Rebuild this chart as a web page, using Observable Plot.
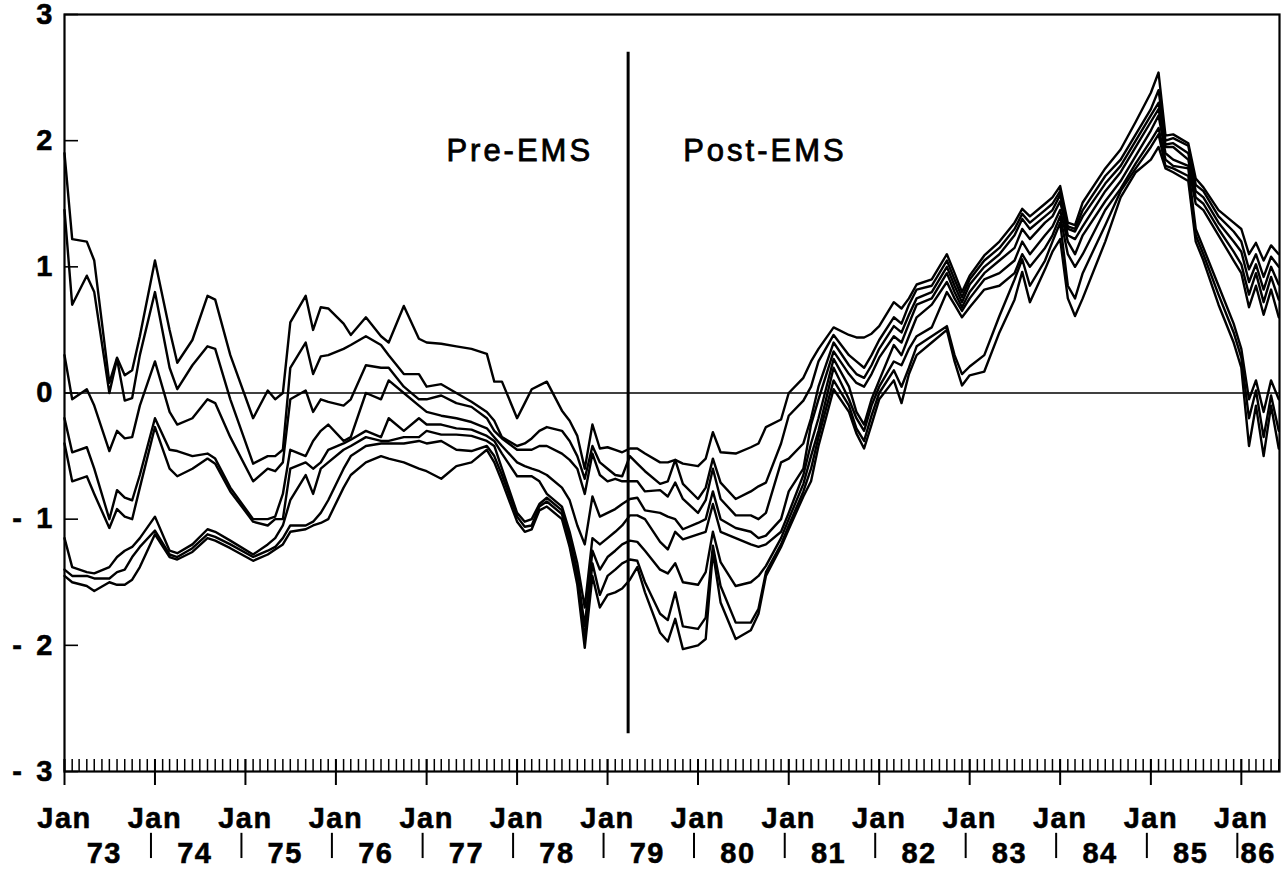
<!DOCTYPE html>
<html>
<head>
<meta charset="utf-8">
<script src="https://cdn.jsdelivr.net/npm/d3@7"></script>
<script src="https://cdn.jsdelivr.net/npm/@observablehq/plot@0.6"></script>
<style>
  html, body { margin: 0; padding: 0; background: #fff; overflow: hidden; }
  #chart svg { display: block; }
  #chart svg text { stroke: #000; stroke-width: 0.55px; }
</style>
</head>
<body>
<div id="chart"></div>
<script>
const monthIndex = [
  0,1,3,4,6,7,8,9,10,12,
  14,15,17,19,20,22,25,27,28,29,
  30,32,33,34,35,37,38,40,42,43,
  45,47,48,50,52,54,56,57,58,60,
  61,62,63,64,66,67,68,69,70,71,
  72,73,74,75,76,77,79,80,81,82,
  84,85,86,87,89,91,92,93,95,96,
  98,99,100,102,104,105,106,107,108,110,
  111,112,113,115,117,118,119,120,122,124,
  126,127,128,130,131,132,133,134,135,138,
  140,142,144,145,146,147,149,150,151,153,
  155,156,157,158,159,160,161
];

// Eight series (ordered from highest to lowest at each reading)
const s1 = [
  1.9,1.22,1.2,1.05,0.08,0.28,0.14,0.18,0.45,1.05,
  0.5,0.24,0.42,0.77,0.74,0.3,-0.2,0.02,-0.05,0.0,
  0.56,0.77,0.5,0.68,0.67,0.55,0.46,0.6,0.45,0.4,
  0.69,0.43,0.4,0.39,0.37,0.35,0.31,0.09,0.09,-0.2,
  -0.08,0.03,0.06,0.09,-0.14,-0.22,-0.34,-0.6,-0.25,-0.44,
  -0.43,-0.45,-0.47,-0.44,-0.44,-0.48,-0.55,-0.55,-0.53,-0.56,
  -0.58,-0.52,-0.31,-0.47,-0.48,-0.43,-0.4,-0.27,-0.21,0.0,
  0.12,0.25,0.35,0.52,0.46,0.44,0.44,0.47,0.53,0.72,
  0.67,0.75,0.86,0.9,1.1,0.95,0.8,0.93,1.09,1.2,
  1.35,1.46,1.4,1.5,1.55,1.64,1.35,1.33,1.51,1.78,
  1.93,2.15,2.38,2.54,2.04,2.05,1.98,1.7,1.63,1.45,
  1.35,1.3,1.1,1.19,1.05,1.17,1.1
];
const s2 = [
  1.45,0.7,0.93,0.8,0.0,0.27,-0.06,-0.04,0.3,0.8,
  0.2,0.03,0.22,0.37,0.35,-0.05,-0.56,-0.5,-0.5,-0.45,
  0.2,0.4,0.15,0.29,0.3,0.35,0.38,0.45,0.38,0.3,
  0.15,0.15,0.05,0.07,0.0,-0.07,-0.15,-0.22,-0.35,-0.42,
  -0.4,-0.36,-0.3,-0.27,-0.3,-0.38,-0.5,-0.68,-0.42,-0.55,
  -0.6,-0.65,-0.66,-0.5,-0.56,-0.62,-0.72,-0.7,-0.53,-0.72,
  -0.84,-0.75,-0.52,-0.71,-0.84,-0.78,-0.74,-0.71,-0.4,-0.18,
  -0.06,0.05,0.25,0.46,0.3,0.25,0.2,0.3,0.42,0.6,
  0.55,0.7,0.82,0.85,1.05,0.9,0.76,0.9,1.05,1.15,
  1.3,1.42,1.35,1.45,1.5,1.6,1.32,1.3,1.45,1.72,
  1.85,2.05,2.25,2.4,2.0,2.02,1.96,1.65,1.6,1.4,
  1.28,1.2,0.98,1.1,0.92,1.08,1.0
];
const s3 = [
  0.3,-0.05,0.03,-0.1,-0.46,-0.3,-0.36,-0.35,-0.1,0.25,
  -0.15,-0.25,-0.2,-0.05,-0.08,-0.35,-0.7,-0.6,-0.62,-0.55,
  -0.05,0.02,-0.15,-0.05,-0.07,-0.1,-0.05,0.22,0.2,0.2,
  0.05,-0.05,-0.05,-0.02,-0.08,-0.11,-0.2,-0.3,-0.36,-0.45,
  -0.45,-0.45,-0.42,-0.42,-0.48,-0.53,-0.6,-0.8,-0.48,-0.65,
  -0.7,-0.68,-0.7,-0.7,-0.7,-0.78,-0.77,-0.82,-0.71,-0.84,
  -0.95,-0.85,-0.6,-0.84,-0.97,-0.97,-1.0,-0.95,-0.55,-0.52,
  -0.4,-0.2,0.05,0.4,0.22,0.15,0.12,0.22,0.35,0.53,
  0.48,0.62,0.75,0.8,1.0,0.85,0.72,0.86,1.0,1.1,
  1.25,1.38,1.3,1.4,1.45,1.57,1.3,1.28,1.4,1.66,
  1.8,2.0,2.2,2.3,1.97,1.98,1.9,1.6,1.55,1.35,
  1.2,1.12,0.88,1.02,0.82,1.0,0.86
];
const s4 = [
  -0.2,-0.47,-0.43,-0.6,-1.0,-0.77,-0.83,-0.85,-0.65,-0.2,
  -0.45,-0.46,-0.5,-0.48,-0.52,-0.75,-1.0,-1.0,-0.98,-0.8,
  -0.45,-0.5,-0.38,-0.3,-0.25,-0.38,-0.35,0.0,-0.05,0.1,
  0.0,-0.1,-0.15,-0.18,-0.2,-0.23,-0.28,-0.35,-0.42,-0.55,
  -0.58,-0.6,-0.62,-0.65,-0.75,-0.85,-1.05,-1.2,-0.82,-0.98,
  -0.95,-0.92,-0.88,-0.84,-0.83,-0.93,-0.95,-0.98,-1.0,-1.08,
  -1.03,-1.0,-0.78,-1.0,-1.07,-1.1,-1.15,-1.13,-1.0,-0.78,
  -0.6,-0.25,-0.05,0.33,0.15,0.08,0.05,0.15,0.28,0.45,
  0.4,0.55,0.7,0.75,0.95,0.8,0.68,0.8,0.95,1.05,
  1.15,1.3,1.22,1.35,1.4,1.52,1.25,1.22,1.32,1.6,
  1.75,1.95,2.15,2.25,1.95,1.95,1.85,1.55,1.5,1.3,
  1.12,1.02,0.78,0.95,0.72,0.92,0.74
];
const s5 = [
  -0.4,-0.7,-0.66,-0.8,-1.07,-0.92,-0.98,-1.0,-0.75,-0.27,
  -0.6,-0.66,-0.6,-0.52,-0.56,-0.78,-1.02,-1.05,-1.0,-1.0,
  -0.6,-0.55,-0.6,-0.55,-0.45,-0.4,-0.37,-0.3,-0.35,-0.2,
  -0.3,-0.2,-0.25,-0.25,-0.28,-0.29,-0.34,-0.38,-0.48,-0.66,
  -0.66,-0.66,-0.7,-0.8,-0.9,-1.1,-1.35,-1.7,-1.15,-1.2,
  -1.15,-1.1,-1.05,-0.97,-0.97,-1.0,-1.18,-1.24,-1.1,-1.16,
  -1.12,-1.1,-0.88,-1.1,-1.15,-1.2,-1.22,-1.2,-1.1,-0.95,
  -0.65,-0.4,-0.2,0.27,0.05,-0.15,-0.25,-0.05,0.1,0.38,
  0.3,0.45,0.6,0.7,0.88,0.75,0.65,0.75,0.9,0.95,
  1.05,1.2,1.1,1.25,1.32,1.45,1.2,1.1,1.25,1.52,
  1.68,1.88,2.08,2.2,1.9,1.85,1.8,1.5,1.45,1.25,
  1.05,0.95,0.68,0.85,0.62,0.82,0.6
];
const s6 = [
  -1.15,-1.38,-1.42,-1.43,-1.38,-1.3,-1.25,-1.22,-1.15,-0.98,
  -1.25,-1.27,-1.2,-1.08,-1.1,-1.17,-1.28,-1.2,-1.15,-1.05,
  -0.85,-0.65,-0.8,-0.6,-0.55,-0.45,-0.42,-0.35,-0.38,-0.38,
  -0.35,-0.35,-0.3,-0.33,-0.33,-0.34,-0.38,-0.42,-0.6,-0.95,
  -1.02,-1.0,-0.88,-0.83,-0.93,-1.15,-1.42,-1.85,-1.25,-1.4,
  -1.3,-1.25,-1.2,-1.17,-1.18,-1.25,-1.4,-1.43,-1.35,-1.5,
  -1.52,-1.42,-1.1,-1.34,-1.53,-1.5,-1.45,-1.37,-1.15,-1.0,
  -0.72,-0.5,-0.3,0.2,-0.05,-0.2,-0.3,-0.1,0.05,0.25,
  0.22,0.35,0.45,0.52,0.8,0.7,0.6,0.68,0.82,0.85,
  0.95,1.1,1.0,1.15,1.25,1.4,1.1,1.0,1.1,1.45,
  1.62,1.82,2.0,2.1,1.85,1.8,1.78,1.3,1.15,0.85,
  0.55,0.35,-0.05,0.1,-0.15,0.1,-0.05
];
const s7 = [
  -1.4,-1.45,-1.45,-1.47,-1.47,-1.42,-1.4,-1.3,-1.22,-1.09,
  -1.28,-1.3,-1.23,-1.12,-1.14,-1.2,-1.3,-1.25,-1.22,-1.15,
  -1.05,-1.05,-1.02,-0.95,-0.85,-0.6,-0.5,-0.42,-0.4,-0.4,
  -0.4,-0.38,-0.4,-0.38,-0.45,-0.46,-0.42,-0.5,-0.65,-0.98,
  -1.06,-1.05,-0.9,-0.86,-0.96,-1.2,-1.48,-1.95,-1.35,-1.6,
  -1.45,-1.4,-1.35,-1.32,-1.33,-1.5,-1.75,-1.8,-1.58,-1.85,
  -1.87,-1.78,-1.21,-1.53,-1.82,-1.82,-1.71,-1.42,-1.2,-1.05,
  -0.78,-0.6,-0.35,0.1,-0.1,-0.28,-0.38,-0.18,0.0,0.18,
  0.05,0.2,0.37,0.45,0.53,0.3,0.15,0.21,0.3,0.61,
  0.9,1.06,0.85,1.05,1.2,1.35,0.85,0.75,0.95,1.33,
  1.6,1.78,1.95,2.05,1.8,1.78,1.72,1.25,1.1,0.78,
  0.48,0.28,-0.2,0.02,-0.35,-0.02,-0.3
];
const s8 = [
  -1.45,-1.5,-1.53,-1.57,-1.5,-1.52,-1.52,-1.48,-1.38,-1.12,
  -1.3,-1.32,-1.26,-1.15,-1.17,-1.23,-1.33,-1.28,-1.24,-1.2,
  -1.1,-1.08,-1.05,-1.03,-1.0,-0.75,-0.65,-0.55,-0.5,-0.52,
  -0.55,-0.6,-0.62,-0.68,-0.58,-0.55,-0.45,-0.55,-0.7,-1.02,
  -1.1,-1.08,-0.93,-0.9,-1.0,-1.22,-1.52,-2.02,-1.45,-1.7,
  -1.6,-1.58,-1.55,-1.48,-1.38,-1.58,-1.9,-1.97,-1.79,-2.03,
  -2.0,-1.95,-1.26,-1.66,-1.95,-1.88,-1.75,-1.45,-1.22,-1.08,
  -0.82,-0.7,-0.42,0.03,-0.15,-0.32,-0.44,-0.25,-0.05,0.1,
  -0.08,0.15,0.3,0.4,0.5,0.25,0.06,0.14,0.17,0.48,
  0.74,0.96,0.72,0.98,1.12,1.22,0.75,0.61,0.75,1.2,
  1.55,1.75,1.85,1.95,1.78,1.75,1.68,1.2,1.05,0.7,
  0.4,0.2,-0.42,-0.1,-0.5,-0.1,-0.44
];

const seriesValues = [s1, s2, s3, s4, s5, s6, s7, s8];
const yTicks = [-3, -2, -1, 0, 1, 2, 3];
const xStart = new Date(1973, 0, 1);
const xEnd = new Date(1986, 5, 4);
const emsDate = new Date(1979, 2, 25);
const periodLabels = ["Pre-EMS", "Post-EMS"];

const monthDate = m => new Date(1973, m, 1);
const data = seriesValues.flatMap((vals, k) =>
  vals.map((v, i) => ({series: "S" + (k + 1), date: monthDate(monthIndex[i]), value: v})));

const allMonths = d3.timeMonth.range(xStart, xEnd);
const janDates = d3.timeYear.range(xStart, xEnd);
const yearMids = janDates.map(d => {
  const next = new Date(d.getFullYear() + 1, 0, 1);
  const end = next > xEnd ? xEnd : next;
  return new Date(+d + (end - d) * 0.44);
});

const fontFamily = "'Liberation Sans', Arial, Helvetica, sans-serif";
const yFmt = d => d < 0 ? "-\u2002" + Math.abs(d) : String(d);

const chart = Plot.plot({
  width: 1285,
  height: 871,
  marginLeft: 64,
  marginRight: 6,
  marginTop: 14,
  marginBottom: 100,
  style: {fontFamily, background: "#fff", color: "#000", overflow: "visible"},
  x: {type: "time", domain: [xStart, xEnd], label: null},
  y: {domain: [-3, 3], label: null},
  marks: [
    Plot.ruleY([0], {stroke: "#000", strokeWidth: 1.3}),
    Plot.line(data, {x: "date", y: "value", z: "series", stroke: "#000", strokeWidth: 2.4}),
    Plot.ruleX([emsDate], {y1: -2.7, y2: 2.7, stroke: "#000", strokeWidth: 3}),
    Plot.text([periodLabels[0]], {x: () => emsDate, y: () => 1.92, text: d => d, textAnchor: "end", dx: -35,
      fontSize: 31, fontFamily, fill: "#000"}),
    Plot.text([periodLabels[1]], {x: () => emsDate, y: () => 1.92, text: d => d, textAnchor: "start", dx: 55,
      fontSize: 31, fontFamily, fill: "#000"}),
    Plot.frame({stroke: "#000", strokeWidth: 2.2}),
    // inward y ticks
    Plot.axisY({ticks: yTicks, tickSize: 14, dx: 14, tickFormat: () => "", label: null, strokeWidth: 1.6}),
    // y labels
    Plot.axisY({ticks: yTicks, tickSize: 0, tickPadding: 12, tickFormat: yFmt, label: null,
      fontSize: 29, fontWeight: "bold", fontFamily}),
    // monthly minor ticks (inward)
    Plot.axisX({ticks: allMonths, tickSize: 12, dy: -12, tickFormat: () => "", label: null, strokeWidth: 1.5}),
    // January ticks
    Plot.axisX({ticks: janDates, tickSize: 26, dy: -12, tickFormat: () => "", label: null, strokeWidth: 2}),
    // "Jan" labels
    Plot.axisX({ticks: janDates, tickSize: 0, tickPadding: 36, tickFormat: () => "Jan", label: null,
      fontSize: 29, fontWeight: "bold", fontFamily}),
    // year labels
    Plot.axisX({ticks: yearMids, tickSize: 0, tickPadding: 71, tickFormat: d3.timeFormat("%y"), label: null,
      fontSize: 29, fontWeight: "bold", fontFamily}),
    // year separators
    Plot.ruleX(janDates.slice(1), {y1: -3.49, y2: -3.69, dx: -4, stroke: "#000", strokeWidth: 2})
  ]
});

chart.querySelectorAll("text").forEach(t => {
  const s = t.textContent;
  if (s === "Pre-EMS" || s === "Post-EMS") {
    t.setAttribute("letter-spacing", "3");
    t.style.strokeWidth = "0.8px";
  } else if (s === "Jan" || /^\d\d$/.test(s)) t.setAttribute("letter-spacing", "1.5");
});

document.getElementById("chart").appendChild(chart);
</script>
</body>
</html>
